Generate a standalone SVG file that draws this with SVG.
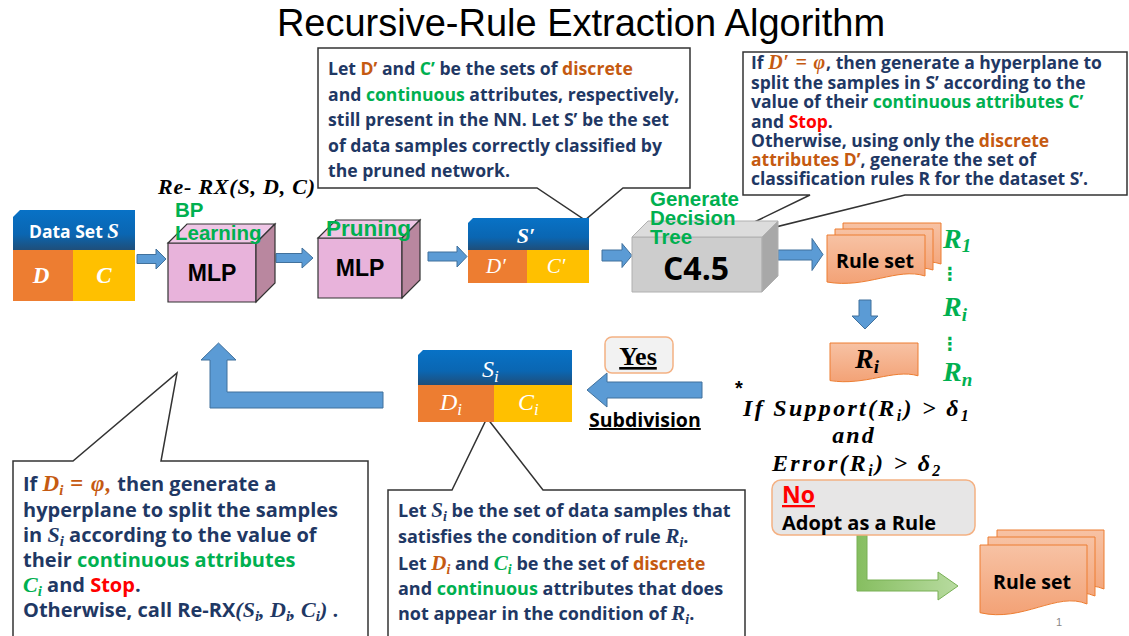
<svg xmlns="http://www.w3.org/2000/svg" width="1129" height="636" viewBox="0 0 1129 636">
<defs>
<linearGradient id="blueHead" x1="0" y1="0" x2="0" y2="1">
<stop offset="0" stop-color="#0872C6"/><stop offset="0.6" stop-color="#0A66B2"/><stop offset="1" stop-color="#1F4E79"/>
</linearGradient>
<linearGradient id="docFill" x1="0" y1="0" x2="0" y2="1">
<stop offset="0" stop-color="#F7C2A4"/><stop offset="1" stop-color="#F3A276"/>
</linearGradient>
<linearGradient id="greenArrow" gradientUnits="userSpaceOnUse" x1="857" y1="0" x2="958" y2="0">
<stop offset="0" stop-color="#86BE60"/><stop offset="1" stop-color="#B8DBA0"/>
</linearGradient>
<style>
.nv{fill:#1F3864}.or{fill:#C55A11}.gr{fill:#00B050}.rd{fill:#FF0000}.wh{fill:#FFFFFF}.bk{fill:#000000}
.cb{font-family:"Open Sans","Liberation Sans",sans-serif;font-weight:700}
.ar{font-family:"Liberation Sans",Arial,sans-serif;font-weight:700}
.m{font-family:"Liberation Serif","DejaVu Serif",serif;font-weight:700;font-style:italic}
.mi{font-family:"Liberation Serif","DejaVu Serif",serif;font-style:italic}
.arw{fill:#5B9BD5;stroke:#41719C;stroke-width:1}
.call{fill:#FFFFFF;stroke:#333333;stroke-width:1.5}
.doc{fill:url(#docFill);stroke:#ED7D31;stroke-width:1}
.cube{stroke:#333333;stroke-width:1.2}
.orb{fill:#ED7D31}.yb{fill:#FFC000}
</style>
</defs>

<text x="581" y="36" text-anchor="middle" font-family="Liberation Sans, Arial, sans-serif" font-size="38" fill="#000">Recursive-Rule Extraction Algorithm</text>

<!-- callouts -->
<g id="callout-top-right">
<path class="call" d="M743 52 H1127 V195 H905 L711 243 L810 195 H743 Z"/>
<text class="cb nv" font-size="17.5">
<tspan x="751" y="69">If <tspan class="m or" font-size="20" letter-spacing="0.8">D′ = φ</tspan>, then generate a hyperplane to</tspan>
<tspan x="751" y="89">split the samples in S’ according to the</tspan>
<tspan x="751" y="108">value of their <tspan class="gr">continuous attributes C’</tspan></tspan>
<tspan x="751" y="128">and <tspan class="rd">Stop</tspan>.</tspan>
<tspan x="751" y="147">Otherwise, using only the <tspan class="or">discrete</tspan></tspan>
<tspan x="751" y="166"><tspan class="or">attributes D’</tspan>, generate the set of</tspan>
<tspan x="751" y="185">classification rules R for the dataset S’.</tspan>
</text>
</g>

<g id="callout-top-center">
<path class="call" d="M318 48 H690 V188 H623 L585 220 L537 188 H318 Z"/>
<text class="cb nv" font-size="17.6">
<tspan x="328" y="75">Let <tspan class="or">D’</tspan> and <tspan class="gr">C’</tspan> be the sets of <tspan class="or">discrete</tspan></tspan>
<tspan x="328" y="101">and <tspan class="gr">continuous</tspan> attributes, respectively,</tspan>
<tspan x="328" y="126">still present in the NN. Let S’ be the set</tspan>
<tspan x="328" y="152">of data samples correctly classified by</tspan>
<tspan x="328" y="177">the pruned network.</tspan>
</text>
</g>

<g id="callout-left">
<path class="call" d="M13 461 H73 L177 373 L161 461 H368 V640 H13 Z"/>
<text class="cb nv" font-size="20">
<tspan x="23" y="491">If <tspan class="m or" font-size="23">D</tspan><tspan class="m or" font-size="15" dy="4">i</tspan><tspan class="m or" font-size="23" dy="-4" letter-spacing="1"> = φ,</tspan>  then generate a</tspan>
<tspan x="23" y="517">hyperplane to split the samples</tspan>
<tspan x="23" y="542">in <tspan class="m" font-size="22">S</tspan><tspan class="m" font-size="15" dy="4">i</tspan><tspan dy="-4"> according to the value of</tspan></tspan>
<tspan x="23" y="567">their <tspan class="gr">continuous attributes</tspan></tspan>
<tspan x="23" y="592"><tspan class="m gr" font-size="22">C</tspan><tspan class="m gr" font-size="15" dy="4">i</tspan><tspan dy="-4"> and </tspan><tspan class="rd">Stop</tspan>.</tspan>
<tspan x="23" y="617">Otherwise, call Re-RX<tspan class="mi" font-size="22">(</tspan><tspan class="m" font-size="22">S</tspan><tspan class="m" font-size="15" dy="4">i</tspan><tspan class="mi" font-size="22" dy="-4">, </tspan><tspan class="m" font-size="22">D</tspan><tspan class="m" font-size="15" dy="4">i</tspan><tspan class="mi" font-size="22" dy="-4">, </tspan><tspan class="m" font-size="22">C</tspan><tspan class="m" font-size="15" dy="4">i</tspan><tspan class="mi" font-size="22" dy="-4">)</tspan> .</tspan>
</text>
</g>

<g id="callout-bottom-center">
<path class="call" d="M388 490 H452 L487 418 L543 490 H745 V640 H388 Z"/>
<text class="cb nv" font-size="18">
<tspan x="398" y="517">Let <tspan class="m" font-size="21">S</tspan><tspan class="m" font-size="14" dy="4">i</tspan><tspan dy="-4"> be the set of data samples that</tspan></tspan>
<tspan x="398" y="543">satisfies the condition of rule <tspan class="m" font-size="21">R</tspan><tspan class="m" font-size="14" dy="4">i</tspan><tspan dy="-4">.</tspan></tspan>
<tspan x="398" y="570">Let <tspan class="m or" font-size="21">D</tspan><tspan class="m or" font-size="14" dy="4">i</tspan><tspan dy="-4"> and </tspan><tspan class="m gr" font-size="21">C</tspan><tspan class="m gr" font-size="14" dy="4">i</tspan><tspan dy="-4"> be the set of </tspan><tspan class="or">discrete</tspan></tspan>
<tspan x="398" y="595">and <tspan class="gr">continuous</tspan> attributes that does</tspan>
<tspan x="398" y="620">not appear in the condition of <tspan class="m" font-size="21">R</tspan><tspan class="m" font-size="14" dy="4">i</tspan><tspan dy="-4">.</tspan></tspan>
</text>
</g>

<!-- connectors -->
<g id="connectors">
<polygon class="arw" points="137,254.5 156,254.5 156,249 166,259 156,269 156,263.5 137,263.5"/>
<polygon class="arw" points="276,253.5 302,253.5 302,248 313,258 302,268 302,262.5 276,262.5"/>
<polygon class="arw" points="428,252 457,252 457,246 467,256.5 457,267 457,261 428,261"/>
<polygon class="arw" points="602,250 622,250 622,243.5 632,255.5 622,267.5 622,261 602,261"/>
<polygon class="arw" points="778,250 812,250 812,238.5 823,254.5 812,270.5 812,260 778,260"/>
<polygon class="arw" points="859,300 871,300 871,316 878,316 865,329 852,316 859,316"/>
<polygon class="arw" points="702,382 607,382 607,373 587,390 607,407 607,398 702,398"/>
<polygon class="arw" points="383,392 383,408 210,408 210,360 201,360 218.5,343 236,360 227,360 227,392"/>
<polygon fill="url(#greenArrow)" stroke="#78B055" stroke-width="1" points="857,535 867,535 867,580 938,580 938,572 958,586 938,600 938,591 857,591"/>
</g>

<g id="label-rerx">
<text x="158" y="194" class="m" font-size="22" textLength="157" lengthAdjust="spacing">Re- RX(S, D, C)</text>
</g>

<g id="node-dataset">
<path d="M20 210 H135 V250 H13 V217 Z" fill="url(#blueHead)"/>
<rect class="orb" x="13" y="250" width="60" height="51"/>
<rect class="yb" x="73" y="250" width="62" height="51"/>
<text x="74" y="238" text-anchor="middle" class="cb wh" font-size="17.5">Data Set <tspan class="m" font-size="21">S</tspan></text>
<text x="41" y="283" text-anchor="middle" class="m wh" font-size="23">D</text>
<text x="104" y="283" text-anchor="middle" class="m wh" font-size="23">C</text>
</g>

<g id="node-mlp1">
<polygon class="cube" fill="#E8B3DB" points="168,243 256,243 256,302 168,302"/>
<polygon class="cube" fill="#EFC6E6" points="168,243 187,224 275,224 256,243"/>
<polygon class="cube" fill="#B9879F" points="256,243 275,224 275,283 256,302"/>
<text x="212" y="281" text-anchor="middle" class="ar" font-size="23" fill="#000">MLP</text>
<text class="ar gr" font-size="20.5"><tspan x="175" y="217">BP</tspan><tspan x="175" y="240">Learning</tspan></text>
</g>

<g id="node-mlp2">
<polygon class="cube" fill="#E8B3DB" points="318,238 402,238 402,298 318,298"/>
<polygon class="cube" fill="#EFC6E6" points="318,238 336,220 420,220 402,238"/>
<polygon class="cube" fill="#B9879F" points="402,238 420,220 420,280 402,298"/>
<text x="360" y="276" text-anchor="middle" class="ar" font-size="23" fill="#000">MLP</text>
<text x="326" y="236" class="ar gr" font-size="22.5">Pruning</text>
</g>

<g id="node-sprime">
<path d="M473 218 H589 V250 H468 V223 Z" fill="url(#blueHead)"/>
<rect class="orb" x="468" y="250" width="59" height="33"/>
<rect class="yb" x="527" y="250" width="62" height="33"/>
<text x="526" y="243" text-anchor="middle" class="m wh" font-size="22">S′</text>
<text x="496" y="273" text-anchor="middle" class="mi wh" font-size="21">D′</text>
<text x="556" y="273" text-anchor="middle" class="mi wh" font-size="21">C′</text>
</g>

<g id="node-c45">
<polygon fill="#CDCDCD" stroke="#B0B0B0" stroke-width="1" points="632,237 762,237 762,292 632,292"/>
<polygon fill="#DCDCDC" stroke="#B0B0B0" stroke-width="1" points="632,237 648,221 778,221 762,237"/>
<polygon fill="#A8A8A8" stroke="#B0B0B0" stroke-width="1" points="762,237 778,221 778,276 762,292"/>
<text x="696" y="280" text-anchor="middle" class="cb" font-size="32" fill="#000">C4.5</text>
<text class="ar gr" font-size="20.5"><tspan x="650" y="206">Generate</tspan><tspan x="650" y="225">Decision</tspan><tspan x="650" y="244">Tree</tspan></text>
</g>

<g id="node-ruleset-top">
<path class="doc" d="M843 223 H941 V264 C913.6 255 882.2 277 843 270 Z"/>
<path class="doc" d="M835 229 H933 V270 C905.6 261 874.2 283 835 276 Z"/>
<path class="doc" d="M827 235 H925 V276 C897.6 267 866.2 289 827 282 Z"/>
<text x="875" y="268" text-anchor="middle" class="cb" font-size="19.5" fill="#000">Rule set</text>
</g>

<g id="label-rlist">
<text class="m gr" font-size="28"><tspan x="943" y="248">R</tspan><tspan font-size="19" dy="4">1</tspan></text>
<text x="950" y="280" text-anchor="middle" font-family="DejaVu Sans, sans-serif" font-weight="700" font-size="18" class="gr">⋮</text>
<text class="m gr" font-size="28"><tspan x="943" y="316">R</tspan><tspan font-size="19" dy="5">i</tspan></text>
<text x="950" y="350" text-anchor="middle" font-family="DejaVu Sans, sans-serif" font-weight="700" font-size="18" class="gr">⋮</text>
<text class="m gr" font-size="28"><tspan x="943" y="381">R</tspan><tspan font-size="19" dy="5">n</tspan></text>
</g>

<g id="node-ri">
<path class="doc" d="M830 343 H918 V375.8 C893.4 368.6 865.2 386.2 830 380.6 Z"/>
<text class="m" font-size="28" fill="#000"><tspan x="855" y="368">R</tspan><tspan font-size="19" dy="5">i</tspan></text>
</g>

<g id="label-condition">
<text x="735" y="395" font-family="Liberation Sans, sans-serif" font-weight="700" font-size="20" fill="#000">*</text>
<text class="m" font-size="24" fill="#000" letter-spacing="2.3"><tspan x="743" y="416">If Support(R</tspan><tspan font-size="16" dy="5">i</tspan><tspan dy="-5">) &gt; δ</tspan><tspan font-size="16" dy="5">1</tspan></text>
<text x="854" y="443" text-anchor="middle" class="m" font-size="24" fill="#000" letter-spacing="2">and</text>
<text class="m" font-size="24" fill="#000" letter-spacing="2.3"><tspan x="772" y="471">Error(R</tspan><tspan font-size="16" dy="5">i</tspan><tspan dy="-5">) &gt; δ</tspan><tspan font-size="16" dy="5">2</tspan></text>
</g>

<g id="node-no">
<rect x="772" y="480" width="203" height="55" rx="9" fill="#E7E6E6" stroke="#F4B183" stroke-width="1.5"/>
<text x="782" y="503" class="cb rd" font-size="23" text-decoration="underline">No</text>
<text x="782" y="530" class="cb" font-size="20" fill="#000">Adopt as a Rule</text>
</g>

<g id="node-yes">
<rect x="605" y="337" width="68" height="36" rx="7" fill="#F2F2F2" stroke="#F4B183" stroke-width="1.5"/>
<text x="638" y="365" text-anchor="middle" font-family="Liberation Serif, serif" font-weight="700" font-size="26" fill="#000" text-decoration="underline">Yes</text>
</g>

<g id="label-subdivision">
<text x="589" y="427" class="cb" font-size="19.5" fill="#000" text-decoration="underline">Subdivision</text>
</g>

<g id="node-si">
<path d="M423 350 H572 V385 H418 V355 Z" fill="url(#blueHead)"/>
<rect class="orb" x="418" y="385" width="76" height="37"/>
<rect class="yb" x="494" y="385" width="78" height="37"/>
<text class="mi wh" font-size="24"><tspan x="482" y="377">S</tspan><tspan font-size="17" dy="5">i</tspan></text>
<text class="mi wh" font-size="24"><tspan x="440" y="410">D</tspan><tspan font-size="17" dy="5">i</tspan></text>
<text class="mi wh" font-size="24"><tspan x="518" y="410">C</tspan><tspan font-size="17" dy="5">i</tspan></text>
</g>

<g id="node-ruleset-bottom">
<path class="doc" d="M997 530 H1104 V589 C1074 576.1 1039.8 607.8 997 597.7 Z"/>
<path class="doc" d="M988 537 H1095 V596 C1065 583.1 1030.8 614.8 988 604.7 Z"/>
<path class="doc" d="M980 545 H1087 V604 C1057 591.1 1022.8 622.8 980 612.7 Z"/>
<text x="1032" y="589" text-anchor="middle" class="cb" font-size="19.5" fill="#000">Rule set</text>
</g>

<text x="1059" y="626" text-anchor="middle" font-family="Liberation Sans, sans-serif" font-size="11" fill="#888">1</text>
</svg>
